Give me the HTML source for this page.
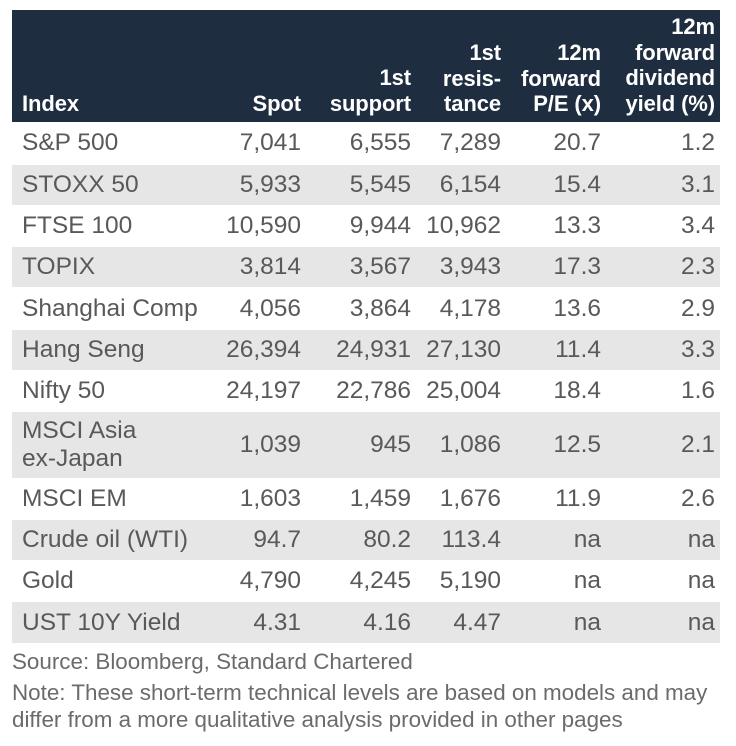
<!DOCTYPE html>
<html><head><style>
body{margin:0;width:736px;height:746px;background:#fff;font-family:"Liberation Sans",Arial,sans-serif;position:relative;overflow:hidden}
.hdr{position:absolute;left:12px;top:10px;width:708px;height:112px;background:#1f2d40}
.c{position:absolute;text-align:right;color:#fff;font-weight:bold;font-size:22px;line-height:25.5px;letter-spacing:-0.1px}
.row{position:absolute;left:12px;width:708px;color:#595959;font-size:24.5px}
.g{background:#e6e6e6}
.row span{position:absolute;top:50%;transform:translateY(-50%);white-space:nowrap}
.note{position:absolute;left:12px;color:#6b6b6b;font-size:22.4px;line-height:28px;white-space:nowrap}
</style></head><body>
<div class="hdr"></div>
<div class="c" style="left:22px;top:91px;text-align:left">Index</div>
<div class="c" style="right:435px;top:91px">Spot</div>
<div class="c" style="right:325px;top:65px">1st<br>support</div>
<div class="c" style="right:235px;top:40px">1st<br>resis-<br>tance</div>
<div class="c" style="right:135px;top:40px">12m<br>forward<br>P/E (x)</div>
<div class="c" style="right:21px;top:14px">12m<br>forward<br>dividend<br>yield (%)</div>
<div class="row" style="top:122px;height:42px"><span style="left:10px">S&amp;P 500</span><span style="right:419px">7,041</span><span style="right:309px">6,555</span><span style="right:219px">7,289</span><span style="right:119px">20.7</span><span style="right:5px">1.2</span></div>
<div class="row g" style="top:165px;height:40px"><span style="left:10px">STOXX 50</span><span style="right:419px">5,933</span><span style="right:309px">5,545</span><span style="right:219px">6,154</span><span style="right:119px">15.4</span><span style="right:5px">3.1</span></div>
<div class="row" style="top:205px;height:41px"><span style="left:10px">FTSE 100</span><span style="right:419px">10,590</span><span style="right:309px">9,944</span><span style="right:219px">10,962</span><span style="right:119px">13.3</span><span style="right:5px">3.4</span></div>
<div class="row g" style="top:247px;height:40px"><span style="left:10px">TOPIX</span><span style="right:419px">3,814</span><span style="right:309px">3,567</span><span style="right:219px">3,943</span><span style="right:119px">17.3</span><span style="right:5px">2.3</span></div>
<div class="row" style="top:288px;height:41px"><span style="left:10px">Shanghai Comp</span><span style="right:419px">4,056</span><span style="right:309px">3,864</span><span style="right:219px">4,178</span><span style="right:119px">13.6</span><span style="right:5px">2.9</span></div>
<div class="row g" style="top:330px;height:40px"><span style="left:10px">Hang Seng</span><span style="right:419px">26,394</span><span style="right:309px">24,931</span><span style="right:219px">27,130</span><span style="right:119px">11.4</span><span style="right:5px">3.3</span></div>
<div class="row" style="top:370px;height:41px"><span style="left:10px">Nifty 50</span><span style="right:419px">24,197</span><span style="right:309px">22,786</span><span style="right:219px">25,004</span><span style="right:119px">18.4</span><span style="right:5px">1.6</span></div>
<div class="row g" style="top:412px;height:66px"><span style="left:10px;line-height:28px">MSCI Asia<br>ex-Japan</span><span style="right:419px">1,039</span><span style="right:309px">945</span><span style="right:219px">1,086</span><span style="right:119px">12.5</span><span style="right:5px">2.1</span></div>
<div class="row" style="top:478px;height:41px"><span style="left:10px">MSCI EM</span><span style="right:419px">1,603</span><span style="right:309px">1,459</span><span style="right:219px">1,676</span><span style="right:119px">11.9</span><span style="right:5px">2.6</span></div>
<div class="row g" style="top:520px;height:40px"><span style="left:10px">Crude oil (WTI)</span><span style="right:419px">94.7</span><span style="right:309px">80.2</span><span style="right:219px">113.4</span><span style="right:119px">na</span><span style="right:5px">na</span></div>
<div class="row" style="top:560px;height:41px"><span style="left:10px">Gold</span><span style="right:419px">4,790</span><span style="right:309px">4,245</span><span style="right:219px">5,190</span><span style="right:119px">na</span><span style="right:5px">na</span></div>
<div class="row g" style="top:602px;height:41px"><span style="left:10px">UST 10Y Yield</span><span style="right:419px">4.31</span><span style="right:309px">4.16</span><span style="right:219px">4.47</span><span style="right:119px">na</span><span style="right:5px">na</span></div>
<div class="note" style="top:648px">Source: Bloomberg, Standard Chartered</div>
<div class="note" style="top:679px;line-height:27px">Note: These short-term technical levels are based on models and may<br>differ from a more qualitative analysis provided in other pages</div>
</body></html>
